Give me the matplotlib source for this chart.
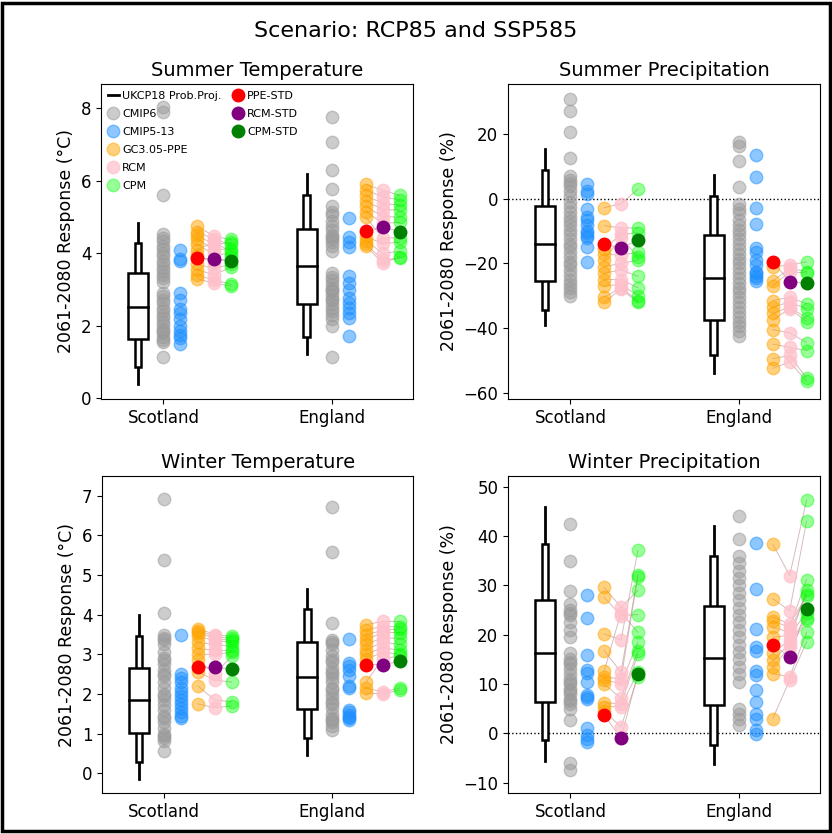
import numpy as np
import matplotlib.pyplot as plt
from matplotlib.lines import Line2D
from matplotlib.patches import Rectangle

regions = ["Scotland", "England"]
titles = ["Summer Temperature", "Summer Precipitation", "Winter Temperature", "Winter Precipitation"]
ylabels = ["2061-2080 Response (°C)", "2061-2080 Response (%)",
           "2061-2080 Response (°C)", "2061-2080 Response (%)"]

# UKCP18 probabilistic projections: p5, p10, p25, p50, p75, p90, p95
st_prob = [[0.39, 0.85, 1.63, 2.52, 3.45, 4.29, 4.84], [1.22, 1.70, 2.61, 3.65, 4.66, 5.62, 6.19]]
sp_prob = [[-39.0, -34.4, -25.4, -14.1, -2.2, 8.9, 15.4], [-53.8, -48.5, -37.5, -24.6, -11.2, 0.9, 7.4]]
wt_prob = [[-0.15, 0.28, 1.01, 1.85, 2.65, 3.47, 3.98], [0.46, 0.90, 1.62, 2.42, 3.31, 4.15, 4.65]]
wp_prob = [[-5.6, -1.4, 6.4, 16.3, 27.1, 38.4, 46.0], [-6.2, -2.4, 5.7, 15.3, 25.8, 35.9, 42.1]]

# CMIP6
st_cmip6 = [[8.03, 7.9, 5.62, 4.52, 4.41, 4.33, 4.2, 4.12, 4.0, 3.92, 3.8, 3.71, 3.6, 3.52, 3.4, 3.31, 3.2,
             2.9, 2.82, 2.7, 2.62, 2.5, 2.41, 2.3, 2.22, 2.1, 2.02, 1.92, 1.85, 1.8, 1.7, 1.62, 1.55, 1.13],
            [7.75, 7.06, 6.31, 5.77, 5.3, 5.15, 5.05, 4.9, 4.75, 4.65, 4.5, 4.45, 4.4, 4.3, 4.2, 4.05, 3.45,
             3.35, 3.25, 3.15, 3.05, 3.0, 2.95, 2.85, 2.75, 2.7, 2.6, 2.5, 2.4, 2.3, 2.2, 2.0, 1.13]]
sp_cmip6 = [[31.1, 27.3, 20.6, 12.6, 7.0, 6.0, 5.0, 4.0, 2.5, 1.0, -1.0, -2.5, -4.0, -5.5, -7.0, -8.0, -9.5,
             -11.0, -12.5, -14.0, -15.0, -16.5, -18.0, -19.5, -20.5, -22.0, -23.5, -25.0, -26.5, -27.5, -29.0, -30.0],
            [17.5, 16.5, 11.7, 3.8, -1.5, -3.0, -4.5, -6.5, -8.0, -9.5, -11.0, -12.5, -14.0, -15.5, -17.0, -18.5,
             -20.0, -21.5, -23.0, -24.5, -26.0, -27.5, -29.0, -30.5, -32.0, -33.5, -35.0, -36.5, -38.0, -39.5,
             -41.0, -42.5]]
wt_cmip6 = [[6.92, 5.38, 4.04, 3.49, 3.4, 3.36, 3.25, 3.05, 2.9, 2.85, 2.75, 2.6, 2.5, 2.45, 2.3, 2.15, 2.0, 1.95,
             1.85, 1.72, 1.6, 1.45, 1.4, 1.3, 1.15, 1.0, 0.95, 0.9, 0.8, 0.55],
            [6.71, 5.59, 3.8, 3.37, 3.3, 3.25, 3.1, 2.95, 2.85, 2.8, 2.65, 2.55, 2.5, 2.4, 2.3, 2.15, 2.1, 2.0,
             1.9, 1.8, 1.75, 1.65, 1.5, 1.4, 1.35, 1.3, 1.2, 1.09]]
wp_cmip6 = [[42.4, 34.9, 28.8, 26.3, 25.0, 24.5, 24.0, 22.5, 21.0, 19.5, 16.2, 15.0, 14.5, 14.0, 13.0, 12.0, 11.0,
             10.5, 10.0, 9.0, 8.5, 8.0, 7.0, 6.5, 6.0, 5.0, 2.8, -6.1, -7.4],
            [44.0, 39.5, 35.9, 34.5, 33.0, 31.5, 30.0, 28.5, 27.0, 25.5, 24.0, 22.5, 21.0, 19.5, 18.0, 16.5, 15.0,
             13.5, 12.0, 10.4, 5.0, 4.0, 3.0, 1.7]]

# CMIP5-13
st_cmip5 = [[4.1, 3.85, 3.8, 2.9, 2.7, 2.45, 2.35, 2.2, 2.0, 1.85, 1.75, 1.65, 1.5],
            [4.96, 4.46, 4.32, 4.18, 3.36, 3.18, 3.0, 2.77, 2.63, 2.49, 2.35, 2.22, 1.73]]
sp_cmip5 = [[4.5, 2.5, 1.5, -3.0, -5.5, -6.5, -8.0, -10.0, -10.5, -11.5, -12.0, -15.0, -19.5],
            [13.5, 6.8, -2.7, -7.8, -15.3, -16.5, -19.0, -20.5, -22.5, -23.0, -24.0, -24.5, -25.5]]
wt_cmip5 = [[3.5, 2.5, 2.4, 2.3, 2.15, 2.05, 1.95, 1.85, 1.75, 1.65, 1.55, 1.45, 1.4],
            [3.38, 2.78, 2.7, 2.61, 2.44, 2.2, 2.15, 1.6, 1.55, 1.47, 1.42, 1.38, 1.35]]
wp_cmip5 = [[28.0, 23.5, 15.8, 12.9, 12.2, 10.4, 7.8, 7.3, 7.0, 1.0, -0.3, -1.2, -1.7],
            [38.6, 29.2, 21.2, 17.5, 16.7, 12.6, 11.8, 8.7, 6.4, 4.0, 3.0, 0.7, -0.2]]

# GC3.05-PPE, RCM and CPM members (same order -> joined by lines)
st_ppe = [[4.75, 4.6, 4.5, 4.4, 4.25, 4.1, 3.95, 3.7, 3.55, 3.4, 3.3],
          [5.9, 5.75, 5.6, 5.45, 5.3, 5.15, 5.0, 4.45, 4.35, 4.25, 4.2]]
st_rcm = [[4.47, 4.38, 4.24, 4.1, 3.97, 4.3, 3.72, 3.58, 3.4, 3.26, 3.17],
          [5.74, 5.56, 5.37, 5.2, 5.01, 4.83, 4.42, 4.28, 4.0, 3.82, 3.73]]
st_cpm = [[4.38, 4.25, 4.3, 4.12, 3.98, 4.05, 3.9, 3.7, 3.62, 3.15, 3.1],
          [5.6, 5.47, 5.33, 5.2, 5.0, 4.85, 4.43, 4.3, 4.05, 3.86, 3.9]]
sp_ppe = [[-2.7, -8.3, -15.5, -17.0, -19.0, -21.0, -23.0, -25.0, -27.0, -30.5, -32.0],
          [-21.0, -25.5, -27.0, -31.5, -33.5, -35.5, -37.5, -40.5, -45.0, -49.5, -52.5]]
sp_rcm = [[-1.5, -9.0, -11.0, -17.5, -12.0, -20.0, -22.0, -25.0, -26.5, -27.5, -28.0],
          [-20.5, -21.5, -22.5, -30.5, -32.0, -33.5, -34.0, -41.5, -46.0, -48.5, -50.5]]
sp_cpm = [[3.0, -9.0, -10.5, -16.5, -18.0, -19.0, -24.0, -27.5, -30.0, -31.5, -32.0],
          [-19.5, -22.5, -23.0, -32.5, -34.0, -37.0, -38.0, -44.5, -47.0, -55.5, -56.5]]
wt_ppe = [[3.65, 3.6, 3.55, 3.45, 3.3, 3.15, 3.0, 2.85, 2.55, 2.2, 1.75],
          [3.75, 3.62, 3.5, 3.37, 3.25, 3.12, 3.0, 2.88, 2.3, 2.15, 2.02]]
wt_rcm = [[3.5, 3.45, 3.4, 3.35, 3.25, 3.1, 3.0, 2.5, 2.35, 1.85, 1.65],
          [3.83, 3.7, 3.6, 3.55, 3.42, 3.3, 3.17, 3.05, 2.9, 2.05, 2.0]]
wt_cpm = [[3.45, 3.4, 3.35, 3.3, 3.2, 3.1, 3.05, 2.95, 2.3, 1.8, 1.7],
          [3.83, 3.7, 3.65, 3.55, 3.4, 3.25, 3.1, 3.0, 2.95, 2.15, 2.1]]
wp_ppe = [[29.6, 27.6, 20.2, 16.8, 12.6, 11.4, 10.8, 10.0, 6.2, 5.4, 4.5],
          [38.4, 27.3, 23.6, 22.8, 21.5, 19.5, 16.2, 14.8, 13.5, 12.1, 3.0]]
wp_rcm = [[25.6, 23.9, 18.9, 12.4, 24.5, 11.1, 10.1, 7.1, 6.0, 5.4, 1.3],
          [32.0, 24.9, 22.2, 21.5, 20.5, 19.9, 19.0, 18.2, 17.5, 11.5, 10.8]]
wp_cpm = [[29.0, 24.1, 37.1, 32.2, 20.5, 31.8, 18.5, 16.8, 16.0, 12.5, 11.5],
          [47.3, 43.0, 27.8, 31.2, 28.3, 24.5, 29.0, 23.5, 22.9, 20.5, 18.5]]

# standard members: PPE-STD, RCM-STD, CPM-STD
st_std = [[3.86, 3.85, 3.79], [4.62, 4.72, 4.6]]
sp_std = [[-14.0, -15.3, -12.7], [-19.5, -25.6, -26.2]]
wt_std = [[2.67, 2.67, 2.63], [2.74, 2.74, 2.82]]
wp_std = [[3.7, -1.0, 12.1], [18.0, 15.5, 25.3]]

ylims = [(-0.02, 8.67), (-62.0, 35.6), (-0.5, 7.5), (-12.1, 52.2)]
yticks = [[0, 2, 4, 6, 8], [-60, -40, -20, 0, 20], list(range(8)), list(range(-10, 51, 10))]

panels = [
    (st_prob, st_cmip6, st_cmip5, st_ppe, st_rcm, st_cpm, st_std),
    (sp_prob, sp_cmip6, sp_cmip5, sp_ppe, sp_rcm, sp_cpm, sp_std),
    (wt_prob, wt_cmip6, wt_cmip5, wt_ppe, wt_rcm, wt_cpm, wt_std),
    (wp_prob, wp_cmip6, wp_cmip5, wp_ppe, wp_rcm, wp_cpm, wp_std),
]

c_cmip6, c_cmip5, c_ppe, c_rcm, c_cpm = "#9a9a9a", "dodgerblue", "orange", "pink", "lime"
a_cmip6, a_cmip5, a_ppe, a_rcm, a_cpm = 0.5, 0.5, 0.5, 0.7, 0.4
std_cols = ["red", "purple", "green"]
ms = 9


def draw_box(ax, x, q):
    p5, p10, p25, p50, p75, p90, p95 = q
    ax.plot([x, x], [p5, p95], color="k", lw=2, zorder=3)
    ax.add_patch(Rectangle((x - 0.02, p10), 0.04, p90 - p10, fc="white", ec="k", lw=1.8, zorder=4))
    ax.add_patch(Rectangle((x - 0.06, p25), 0.12, p75 - p25, fc="white", ec="k", lw=1.8, zorder=5))
    ax.plot([x - 0.06, x + 0.06], [p50, p50], color="k", lw=1.8, zorder=6)


fig = plt.figure(figsize=(8.32, 8.34), dpi=100)
pos = [[0.1214, 0.5216, 0.375, 0.3777], [0.6106, 0.5216, 0.375, 0.3777],
       [0.1226, 0.0492, 0.374, 0.380], [0.6106, 0.0492, 0.375, 0.380]]

for i, (prob, cm6, cm5, ppe, rcm, cpm, std) in enumerate(panels):
    ax = fig.add_axes(pos[i])
    for r in range(2):
        draw_box(ax, r - 0.15, prob[r])
        ax.plot([r] * len(cm6[r]), cm6[r], "o", color=c_cmip6, alpha=a_cmip6, ms=ms)
        ax.plot([r + 0.1] * len(cm5[r]), cm5[r], "o", color=c_cmip5, alpha=a_cmip5, ms=ms)
        for a, b, c in zip(ppe[r] + [std[r][0]], rcm[r] + [std[r][1]], cpm[r] + [std[r][2]]):
            ax.plot([r + 0.2, r + 0.3, r + 0.4], [a, b, c], color="rosybrown", lw=0.7, alpha=0.6, zorder=1)
        ax.plot([r + 0.2] * len(ppe[r]), ppe[r], "o", color=c_ppe, alpha=a_ppe, ms=ms)
        ax.plot([r + 0.3] * len(rcm[r]), rcm[r], "o", color=c_rcm, alpha=a_rcm, ms=ms)
        ax.plot([r + 0.4] * len(cpm[r]), cpm[r], "o", color=c_cpm, alpha=a_cpm, ms=ms)
        for k in range(3):
            ax.plot(r + 0.2 + 0.1 * k, std[r][k], "o", color=std_cols[k], ms=ms, zorder=7)
    if i % 2 == 1:
        ax.axhline(0, color="k", ls=":", lw=1, zorder=0)
    ax.set_xlim(-0.37, 1.48)
    ax.set_ylim(*ylims[i])
    ax.set_yticks(yticks[i])
    ax.set_xticks([0, 1])
    ax.set_xticklabels(regions)
    ax.tick_params(labelsize=12)
    ax.set_ylabel(ylabels[i], fontsize=12.5)
    ax.set_title(titles[i], fontsize=14)

    if i == 0:
        h1 = [Line2D([], [], color="k", lw=2)]
        for c, a in zip([c_cmip6, c_cmip5, c_ppe, c_rcm, c_cpm], [a_cmip6, a_cmip5, a_ppe, a_rcm, a_cpm]):
            h1.append(Line2D([], [], ls="", marker="o", color=c, alpha=a, ms=ms))
        l1 = ax.legend(h1, ["UKCP18 Prob.Proj.", "CMIP6", "CMIP5-13", "GC3.05-PPE", "RCM", "CPM"],
                       loc="upper left", bbox_to_anchor=(0.0, 1.0), fontsize=8, frameon=False,
                       handlelength=1.0, handletextpad=0.3, labelspacing=0.72, borderaxespad=0.2)
        ax.add_artist(l1)
        h2 = [Line2D([], [], ls="", marker="o", color=c, ms=ms) for c in std_cols]
        ax.legend(h2, ["PPE-STD", "RCM-STD", "CPM-STD"], loc="upper left",
                  bbox_to_anchor=(0.4, 1.0), fontsize=8, frameon=False,
                  handlelength=1.0, handletextpad=0.3, labelspacing=0.72, borderaxespad=0.2)

fig.suptitle("Scenario: RCP85 and SSP585", fontsize=16, y=0.975)
fig.add_artist(Rectangle((0.003, 0.003), 0.994, 0.994, transform=fig.transFigure,
                         fill=False, ec="k", lw=2.5))
fig.savefig("out.png", dpi=100)
